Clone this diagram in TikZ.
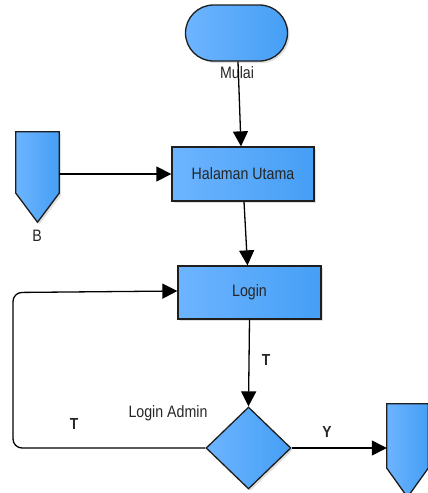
\documentclass[tikz,border=0pt]{standalone}
\usepackage{fontspec}
\setmainfont{Liberation Sans}
\newfontfamily\narrowsans[FakeStretch=0.86]{Liberation Sans}
\usetikzlibrary{shapes.misc,shapes.geometric,arrows.meta,shadows,calc}
\definecolor{fillA}{HTML}{6DB4FF}
\definecolor{fillB}{HTML}{88C5FF}
\definecolor{fillC}{HTML}{459FF5}
\definecolor{edgecol}{HTML}{1E1E1E}
\tikzset{
  blueshade/.style={left color=fillA, middle color=fillB, right color=fillC},
  shapeline/.style={draw=edgecol, line width=1.3pt},
  boxshadow/.style={drop shadow={shadow xshift=2pt, shadow yshift=-2pt, opacity=0.25, fill=gray}},
  procbox/.style={rectangle, shapeline, blueshade, boxshadow, inner sep=0pt,
    font=\narrowsans\fontsize{16.5}{19}\selectfont, text=black!85},
  termbox/.style={rounded rectangle, shapeline, blueshade, boxshadow, inner sep=0pt,
    minimum width=102pt, minimum height=56pt},
  decbox/.style={diamond, shapeline, blueshade, boxshadow, inner sep=0pt,
    minimum width=85pt, minimum height=82pt},
  holder/.style={rectangle, inner sep=0pt},
  flow/.style={line width=1.3pt, -{Triangle[length=15pt,width=15pt]}},
  plain/.style={font=\narrowsans\fontsize{16.5}{19}\selectfont, text=black!85},
  flag/.style={font=\narrowsans\bfseries\fontsize{16}{19}\selectfont, text=black!85}
}
\begin{document}
\begin{tikzpicture}[x=1pt,y=-1pt]
\useasboundingbox (0,0) rectangle (428,493);

% start terminal and processes
\node[termbox] (mulai) at (236.5,33) {};
\node[procbox, minimum width=142pt, minimum height=54pt] (halaman) at (243,174) {Halaman Utama};
\node[procbox, minimum width=143pt, minimum height=53pt] (login) at (249.5,292.5) {Login};
\node[decbox] (admin) at (248.5,448) {};

% off-page connector B (left)
\node[holder, minimum width=43pt, minimum height=90pt] (bconn) at (37.5,177) {};
\draw[shapeline, blueshade, boxshadow]
  (bconn.north west) -- (bconn.north east) -- ($(bconn.south east)+(0,-29)$)
  -- (bconn.south) -- ($(bconn.south west)+(0,-29)$) -- cycle;

% off-page connector (right, running off the page)
\node[holder, minimum width=41pt, minimum height=93pt] (endconn) at (407.5,450.5) {};
\draw[shapeline, blueshade]
  (endconn.north west) -- (endconn.north east) -- ($(endconn.south east)+(0,-29)$)
  -- (endconn.south) -- ($(endconn.south west)+(0,-29)$) -- cycle;

% texts
\node[plain] (mulaitxt) at (237,73) {Mulai};
\node[plain] (btxt) at (37,236) {B};
\node[plain] (admintxt) at (168,413) {Login Admin};
\node[flag] (t1) at (266,360) {T};
\node[flag] (t2) at (74,424) {T};
\node[flag] (y1) at (327,432) {Y};

% connectors
\coordinate (loopx) at (13,0);
\draw[flow] ([xshift=1.5pt]mulai.south) -- ([xshift=-2pt]halaman.north);
\draw[flow] (bconn.east |- halaman.west) -- (halaman.west);
\draw[flow] ([xshift=1pt]halaman.south) -- ([xshift=-2pt]login.north);
\draw[flow] (login.south) -- (admin.north);
\draw[flow] (admin.east) -- (admin.east -| endconn.west);
\draw[flow, rounded corners=9pt] (admin.west) -- (admin.west -| loopx)
  -- (loopx |- login.west) -- ([yshift=1.5pt]login.west);
\end{tikzpicture}
\end{document}
